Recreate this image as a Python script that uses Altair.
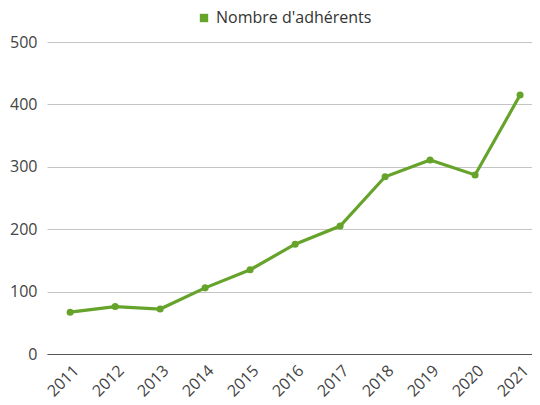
import altair as alt
import pandas as pd

years = ["2011", "2012", "2013", "2014", "2015", "2016", "2017", "2018", "2019", "2020", "2021"]
values = [67, 76, 72, 106, 135, 176, 205, 284, 311, 287, 415]
series_name = "Nombre d'adhérents"
y_ticks = [0, 100, 200, 300, 400, 500]

df = pd.DataFrame({"year": years, "value": values, "serie": [series_name] * len(years)})

green = "#65a32a"
font = "Open Sans"

base = alt.Chart(df).encode(
    x=alt.X("year:O", title=None, sort=years,
            scale=alt.Scale(type="point", padding=0.39, align=0.66),
            axis=alt.Axis(labelAngle=-45, labelFontSize=16, labelColor="#444", labelFont=font,
                          ticks=False, domainColor="#555", domainWidth=1.2, grid=False, labelPadding=8)),
    y=alt.Y("value:Q", title=None, scale=alt.Scale(domain=[0, 500], nice=False),
            axis=alt.Axis(values=y_ticks, labelFontSize=16, labelColor="#444", labelFont=font,
                          ticks=False, domain=False, gridColor="#c4c4c4", gridWidth=1, labelPadding=10)),
    color=alt.Color("serie:N", scale=alt.Scale(range=[green]),
                    legend=alt.Legend(title=None, orient="none", legendX=149, legendY=-32, padding=0,
                                      direction="horizontal", symbolType="square", symbolSize=70,
                                      labelFontSize=16, labelColor="#333", labelFont=font,
                                      symbolStrokeWidth=0)),
)

line = base.mark_line(strokeWidth=3.2)
pts = base.mark_point(filled=True, size=50, opacity=1)

chart = alt.layer(line, pts).properties(
    width=485, height=312,
    padding={"left": 39, "top": 34, "right": 0, "bottom": 47},
    autosize=alt.AutoSizeParams(type="none")
).configure_view(stroke=None)

chart.save("out.html", embed_options={"renderer": "svg", "actions": False})
